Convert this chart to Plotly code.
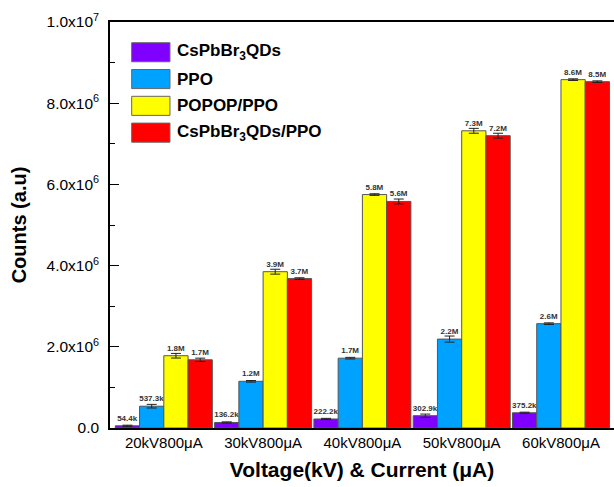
import plotly.graph_objects as go

categories = ["20kV800μA", "30kV800μA", "40kV800μA", "50kV800μA", "60kV800μA"]
series_names = ["CsPbBr<sub>3</sub>QDs", "PPO", "POPOP/PPO", "CsPbBr<sub>3</sub>QDs/PPO"]
series_colors = ["#7F00FF", "#00A2FF", "#FFFF00", "#FF0000"]

cspbbr3_qds = [54.4e3, 136.2e3, 222.2e3, 302.9e3, 375.2e3]
ppo = [537.3e3, 1.15e6, 1.72e6, 2.19e6, 2.57e6]
popop_ppo = [1.78e6, 3.85e6, 5.75e6, 7.32e6, 8.58e6]
cspbbr3_ppo = [1.68e6, 3.68e6, 5.58e6, 7.20e6, 8.53e6]

cspbbr3_qds_err = [15e3, 15e3, 15e3, 40e3, 15e3]
ppo_err = [45e3, 20e3, 20e3, 75e3, 20e3]
popop_ppo_err = [57e3, 60e3, 20e3, 60e3, 20e3]
cspbbr3_ppo_err = [40e3, 20e3, 60e3, 60e3, 20e3]

cspbbr3_qds_lbl = ["54.4k", "136.2k", "222.2k", "302.9k", "375.2k"]
ppo_lbl = ["537.3k", "1.2M", "1.7M", "2.2M", "2.6M"]
popop_ppo_lbl = ["1.8M", "3.9M", "5.8M", "7.3M", "8.6M"]
cspbbr3_ppo_lbl = ["1.7M", "3.7M", "5.6M", "7.2M", "8.5M"]

y_tickvals = [0, 2e6, 4e6, 6e6, 8e6, 1e7]
y_ticktext = ["0.0", "2.0x10<sup>6</sup>", "4.0x10<sup>6</sup>", "6.0x10<sup>6</sup>",
              "8.0x10<sup>6</sup>", "1.0x10<sup>7</sup>"]

values = [cspbbr3_qds, ppo, popop_ppo, cspbbr3_ppo]
errors = [cspbbr3_qds_err, ppo_err, popop_ppo_err, cspbbr3_ppo_err]
labels = [cspbbr3_qds_lbl, ppo_lbl, popop_ppo_lbl, cspbbr3_ppo_lbl]

FONT = "Liberation Sans, Arial, sans-serif"

fig = go.Figure()
for name, col, v, e, t in zip(series_names, series_colors, values, errors, labels):
    fig.add_trace(go.Bar(
        x=categories, y=v, name=name,
        marker=dict(color=col, line=dict(color="#555555", width=1)),
        error_y=dict(type="data", array=e, color="#222222", thickness=1, width=5),
        text=t, textposition="outside", constraintext="none", cliponaxis=False,
        textfont=dict(size=8, color="#333333", family=FONT, weight="bold"),
        showlegend=False,
    ))

# manual legend with large swatches
sw_x0, sw_x1 = 0.043, 0.119
top_y, sw_h, step = 0.949, 0.047, 0.066
for i, (name, col) in enumerate(zip(series_names, series_colors)):
    y1 = top_y - i * step
    y0 = y1 - sw_h
    fig.add_shape(type="rect", xref="paper", yref="paper", x0=sw_x0, x1=sw_x1, y0=y0, y1=y1,
                  fillcolor=col, line=dict(color="#666666", width=1))
    fig.add_annotation(xref="paper", yref="paper", x=0.128, y=(y0 + y1) / 2,
                       text="<b>" + name + "</b>", showarrow=False, xanchor="left", yanchor="middle",
                       font=dict(size=17, color="black", family=FONT))

fig.update_layout(
    width=614, height=487,
    margin=dict(l=110, r=0, t=22, b=59),
    paper_bgcolor="white", plot_bgcolor="white",
    barmode="group", bargap=0.023, bargroupgap=0,
    font=dict(family=FONT, color="black"),
)
fig.update_xaxes(
    range=[-0.542, 4.534], showgrid=False,
    showline=True, linecolor="black", linewidth=1.5, mirror=True,
    ticks="", tickfont=dict(size=15, color="black"),
    title=dict(text="<b>Voltage(kV) & Current (μA)</b>", font=dict(size=21, color="black"), standoff=13),
)
fig.update_yaxes(
    range=[0, 1e7], showgrid=False, zeroline=False,
    showline=True, linecolor="black", linewidth=1.5,
    tickvals=y_tickvals, ticktext=y_ticktext,
    ticks="inside", ticklen=9, tickwidth=1.2, tickcolor="black",
    minor=dict(ticks="inside", ticklen=5, dtick=1e6, tick0=0, tickwidth=1.2, tickcolor="black"),
    tickfont=dict(size=15.5, color="black"), ticklabelstandoff=6,
    title=dict(text="<b>Counts (a.u)</b>", font=dict(size=20, color="black"), standoff=15),
)

fig.write_html("out.html")
